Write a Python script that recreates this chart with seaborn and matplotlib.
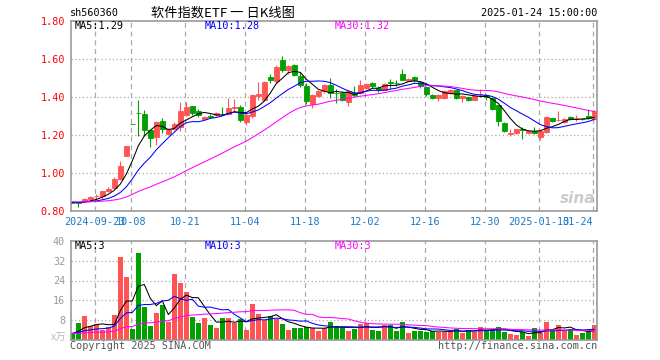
import numpy as np
import pandas as pd
import seaborn as sns
import matplotlib
matplotlib.use("Agg")
import matplotlib.pyplot as plt

# daily candles, 2024-09-13 .. 2025-01-24 (88 trading days)
opens = [0.846, 0.847, 0.855, 0.866, 0.879, 0.882, 0.909, 0.922, 0.970, 1.090,
         1.258, 1.318, 1.312, 1.228, 1.190, 1.272, 1.205, 1.232, 1.245, 1.307,
         1.351, 1.328, 1.287, 1.300, 1.305, 1.313, 1.310, 1.343, 1.348, 1.270,
         1.300, 1.408, 1.386, 1.508, 1.487, 1.596, 1.545, 1.570, 1.512, 1.456,
         1.363, 1.408, 1.430, 1.465, 1.423, 1.421, 1.374, 1.420, 1.421, 1.450,
         1.474, 1.450, 1.438, 1.479, 1.475, 1.523, 1.486, 1.508, 1.478, 1.453,
         1.412, 1.398, 1.398, 1.421, 1.438, 1.398, 1.400, 1.386, 1.415, 1.412,
         1.395, 1.359, 1.266, 1.208, 1.214, 1.230, 1.210, 1.224, 1.190, 1.216,
         1.289, 1.279, 1.268, 1.295, 1.288, 1.287, 1.300, 1.284]
highs = [0.847, 0.848, 0.868, 0.878, 0.890, 0.909, 0.930, 0.980, 1.066, 1.145,
         1.258, 1.386, 1.330, 1.232, 1.276, 1.290, 1.238, 1.270, 1.374, 1.372,
         1.355, 1.338, 1.300, 1.310, 1.322, 1.350, 1.398, 1.390, 1.360, 1.310,
         1.415, 1.482, 1.486, 1.520, 1.570, 1.614, 1.570, 1.575, 1.530, 1.474,
         1.415, 1.440, 1.470, 1.500, 1.442, 1.430, 1.435, 1.456, 1.490, 1.475,
         1.480, 1.458, 1.475, 1.495, 1.490, 1.547, 1.500, 1.510, 1.480, 1.455,
         1.418, 1.415, 1.435, 1.445, 1.440, 1.410, 1.400, 1.412, 1.442, 1.415,
         1.400, 1.360, 1.270, 1.232, 1.235, 1.245, 1.228, 1.245, 1.228, 1.300,
         1.292, 1.328, 1.290, 1.300, 1.307, 1.290, 1.337, 1.330]
lows = [0.844, 0.825, 0.852, 0.862, 0.866, 0.866, 0.903, 0.915, 0.965, 1.088,
        1.257, 1.196, 1.198, 1.140, 1.150, 1.210, 1.200, 1.225, 1.220, 1.300,
        1.306, 1.295, 1.285, 1.288, 1.300, 1.305, 1.305, 1.320, 1.270, 1.254,
        1.290, 1.386, 1.382, 1.475, 1.475, 1.530, 1.520, 1.510, 1.455, 1.363,
        1.345, 1.400, 1.420, 1.395, 1.368, 1.380, 1.351, 1.400, 1.415, 1.445,
        1.450, 1.428, 1.435, 1.442, 1.460, 1.490, 1.485, 1.478, 1.450, 1.407,
        1.390, 1.382, 1.392, 1.418, 1.392, 1.372, 1.380, 1.383, 1.400, 1.385,
        1.333, 1.249, 1.215, 1.198, 1.205, 1.179, 1.205, 1.205, 1.175, 1.212,
        1.268, 1.275, 1.262, 1.280, 1.275, 1.280, 1.285, 1.280]
closes = [0.845, 0.843, 0.865, 0.875, 0.882, 0.907, 0.919, 0.970, 1.038, 1.142,
          1.257, 1.314, 1.228, 1.187, 1.270, 1.230, 1.232, 1.258, 1.328, 1.350,
          1.316, 1.307, 1.297, 1.298, 1.315, 1.311, 1.345, 1.347, 1.280, 1.307,
          1.410, 1.417, 1.482, 1.491, 1.560, 1.544, 1.566, 1.515, 1.465, 1.381,
          1.412, 1.433, 1.465, 1.422, 1.420, 1.386, 1.430, 1.410, 1.465, 1.470,
          1.456, 1.435, 1.470, 1.476, 1.473, 1.491, 1.496, 1.491, 1.456, 1.418,
          1.398, 1.412, 1.430, 1.438, 1.398, 1.407, 1.386, 1.407, 1.418, 1.400,
          1.337, 1.272, 1.220, 1.211, 1.232, 1.227, 1.224, 1.210, 1.224, 1.295,
          1.272, 1.281, 1.286, 1.284, 1.290, 1.285, 1.289, 1.325]
# volume in 万
volumes = [2.7, 6.7, 9.6, 5.5, 6.3, 4.0, 5.0, 10.0, 33.6, 25.6,
           4.4, 35.0, 13.2, 5.6, 11.0, 14.0, 7.3, 26.5, 23.0, 19.5,
           9.2, 6.9, 8.9, 6.0, 4.9, 8.9, 8.9, 6.7, 8.3, 4.0,
           14.5, 10.4, 8.0, 9.6, 8.3, 6.5, 4.0, 4.9, 4.9, 5.3,
           4.7, 3.7, 4.7, 7.2, 5.6, 5.1, 3.6, 4.4, 6.4, 6.7,
           4.0, 3.6, 6.1, 6.0, 3.6, 7.2, 2.8, 3.7, 3.7, 3.3,
           3.6, 3.3, 3.3, 3.3, 4.4, 2.9, 4.0, 3.3, 5.2, 4.0,
           4.0, 5.2, 3.2, 2.4, 2.0, 3.2, 1.6, 4.8, 2.7, 7.2,
           4.0, 6.0, 4.0, 4.4, 2.0, 2.8, 3.2, 6.0]

# sessions before the window, only feed the moving averages (MA30 starts ~0.85)
prior_closes = [0.858, 0.856, 0.855, 0.853, 0.854, 0.852, 0.851, 0.853, 0.852, 0.850,
                0.851, 0.849, 0.850, 0.852, 0.851, 0.850, 0.849, 0.848, 0.850, 0.849,
                0.848, 0.847, 0.849, 0.848, 0.847, 0.846, 0.848, 0.847, 0.846]
prior_volumes = [2.4, 2.6, 2.2, 2.5, 2.3, 2.8, 2.4, 2.1, 2.6, 2.3,
                 2.5, 2.2, 2.7, 2.4, 2.3, 2.6, 2.2, 2.5, 2.4, 2.3,
                 2.6, 2.5, 2.2, 2.4, 2.8, 2.6, 2.3, 2.5, 2.7]

tick_idx = [4, 10, 19, 29, 39, 49, 59, 69, 78, 87]
tick_labels = ["2024-09-23", "10-08", "10-21", "11-04", "11-18",
               "12-02", "12-16", "12-30", "2025-01-13", "01-24"]
price_ticks = [0.80, 1.00, 1.20, 1.40, 1.60, 1.80]
vol_ticks = [8, 16, 24, 32, 40]

df = pd.DataFrame({"open": opens, "high": highs, "low": lows,
                   "close": closes, "vol": volumes})
df["idx"] = np.arange(len(df))
full_close = pd.Series(prior_closes + closes)
full_vol = pd.Series(prior_volumes + volumes)
npre = len(prior_closes)
for n in (5, 10, 30):
    df[f"ma{n}"] = full_close.rolling(n, min_periods=1).mean().iloc[npre:].to_numpy()
    df[f"vma{n}"] = full_vol.rolling(n, min_periods=1).mean().iloc[npre:].to_numpy()

RED = "#ff5454"
GREEN = "#00a000"
ma_colors = {5: "black", 10: "#0000ff", 30: "#ff00ff"}
col = np.where(df["close"] >= df["open"], RED, GREEN)

sns.set_style("white")
plt.rcParams["font.family"] = ["DejaVu Sans Mono"]
MONO = ["DejaVu Sans Mono"]
CJK = ["Noto Sans CJK SC", "DejaVu Sans"]

fig = plt.figure(figsize=(6.6, 3.6), dpi=100)
ax = fig.add_axes([70.7 / 660, 1 - 211.3 / 360, 526.6 / 660, 190.3 / 360])
axv = fig.add_axes([70.7 / 660, 1 - 339.75 / 360, 526.6 / 660, 98.75 / 360])

grid_x = [i - 0.27 for i in tick_idx]
for a in (ax, axv):
    a.set_xlim(-0.27, 87.5)
    for gx in grid_x:
        a.axvline(gx, color="#aaaaaa", lw=0.9, ls=(0, (4, 3)), zorder=0)
    for s in a.spines.values():
        s.set_color("#999999")
        s.set_linewidth(1.2)
    a.tick_params(length=0)

# price panel
ax.set_ylim(0.80, 1.80)
for p in price_ticks[1:-1]:
    ax.axhline(p, color="#aaaaaa", lw=0.9, ls=(0, (1, 2)), zorder=0)
ax.vlines(df["idx"], df["low"], df["high"], colors=col, lw=0.8, zorder=2)
ax.bar(df["idx"], (df["close"] - df["open"]).abs(), bottom=df[["open", "close"]].min(axis=1),
       width=0.75, color=col, edgecolor=col, linewidth=0.6, zorder=3)
for n in (5, 10, 30):
    sns.lineplot(data=df, x="idx", y=f"ma{n}", ax=ax, color=ma_colors[n], lw=0.75,
                 legend=False, zorder=4)
ax.set_xlabel("")
ax.set_ylabel("")
ax.set_yticks(price_ticks)
ax.set_yticklabels([f"{p:.2f}" for p in price_ticks], color="#ff0000", fontsize=7.3, family=MONO)
ax.tick_params(axis="y", pad=4)
ax.set_xticks(grid_x)
ax.set_xticklabels(tick_labels, color="#1a78c8", fontsize=7.3, family=MONO)
ax.tick_params(axis="x", pad=4)
ax.get_xticklabels()[-1].set_ha("right")

fig.text(75 / 660, 1 - 26 / 360, "MA5:1.29", color="black", fontsize=7.3, family=MONO, va="center")
fig.text(205 / 660, 1 - 26 / 360, "MA10:1.28", color="#0000ff", fontsize=7.3, family=MONO, va="center")
fig.text(335 / 660, 1 - 26 / 360, "MA30:1.32", color="#ff00ff", fontsize=7.3, family=MONO, va="center")

# volume panel
axv.set_ylim(0, 40)
for v in vol_ticks[:-1]:
    axv.axhline(v, color="#aaaaaa", lw=0.9, ls=(0, (1, 2)), zorder=0)
axv.bar(df["idx"], df["vol"], width=0.83, color=col, linewidth=0, zorder=2)
for n in (5, 10, 30):
    sns.lineplot(data=df, x="idx", y=f"vma{n}", ax=axv, color=ma_colors[n], lw=0.75,
                 legend=False, zorder=4)
axv.set_xlabel("")
axv.set_ylabel("")
axv.set_xticks(grid_x)
axv.set_xticklabels([])
axv.set_yticks(vol_ticks)
axv.set_yticklabels([str(v) for v in vol_ticks], color="#999999", fontsize=7.3, family=MONO)
axv.tick_params(axis="y", pad=4)

fig.text(75 / 660, 1 - 246 / 360, "MA5:3", color="black", fontsize=7.3, family=MONO, va="center")
fig.text(205 / 660, 1 - 246 / 360, "MA10:3", color="#0000ff", fontsize=7.3, family=MONO, va="center")
fig.text(335 / 660, 1 - 246 / 360, "MA30:3", color="#ff00ff", fontsize=7.3, family=MONO, va="center")
fig.text(66 / 660, 1 - 338 / 360, "x万", color="#bbbbbb", fontsize=7.5, ha="right", va="center",
         family=CJK)

# header and footer
fig.text(70 / 660, 1 - 13 / 360, "sh560360", color="black", fontsize=7.3, family=MONO, va="center")
fig.text(223 / 660, 1 - 13 / 360, "软件指数ETF 一 日K线图", color="black", fontsize=9.5,
         ha="center", va="center", family=CJK)
fig.text(597 / 660, 1 - 13 / 360, "2025-01-24 15:00:00", color="black", fontsize=7.3,
         family=MONO, ha="right", va="center")
fig.text(70 / 660, 1 - 346 / 360, "Copyright 2025 SINA.COM", color="#555555", fontsize=7.3,
         family=MONO, va="center")
fig.text(597 / 660, 1 - 346 / 360, "http://finance.sina.com.cn", color="#555555", fontsize=7.3,
         family=MONO, ha="right", va="center")
fig.text(578 / 660, 1 - 198 / 360, "sina", color="#cccccc", fontsize=11, fontweight="bold",
         style="italic", ha="center", va="center", family=["DejaVu Sans"])

fig.savefig("out.png", dpi=100)
